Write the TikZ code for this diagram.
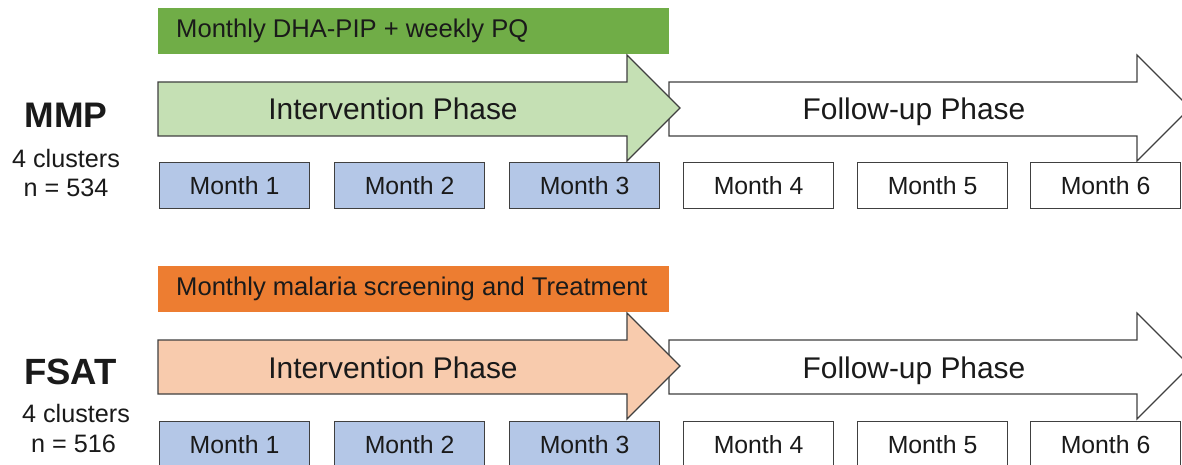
\documentclass[tikz,border=0pt]{standalone}
\usepackage{fontspec}
\setmainfont{Liberation Sans}
\definecolor{gbar}{HTML}{70AD47}
\definecolor{garrow}{HTML}{C5E0B4}
\definecolor{obar}{HTML}{ED7D31}
\definecolor{oarrow}{HTML}{F8CBAD}
\definecolor{mblue}{HTML}{B4C7E7}
\definecolor{edge}{HTML}{404040}
\definecolor{txt}{HTML}{1A1A1A}
\begin{document}
\begin{tikzpicture}[x=1pt,y=-1pt,
  monthbox/.style={draw=edge,line width=1.1pt,minimum width=150pt,minimum height=46pt,inner sep=0pt,anchor=north west,text=txt,font=\fontsize{24.8}{28}\selectfont},
  arrowshape/.style={draw=edge,line width=1.1pt,line join=miter},
  phasetext/.style={text=txt,font=\fontsize{29.9}{34}\selectfont,inner sep=0pt,anchor=base},
  bartext/.style={text=txt,font=\fontsize{25.6}{29}\selectfont,inner sep=0pt,anchor=west},
  grouplbl/.style={text=txt,font=\fontsize{36}{40}\selectfont\bfseries,inner sep=0pt},
  sublbl/.style={text=txt,font=\fontsize{25.2}{29}\selectfont,inner sep=0pt}]
\useasboundingbox (0,0) rectangle (1182,465);
\clip (0,0) rectangle (1182,465);
\fill[white] (0,0) rectangle (1182,465);
% ---------- MMP ----------
\fill[gbar] (158,8) rectangle (669,54);
\node[bartext] (mbar) at (176,31) {Monthly DHA-PIP + weekly PQ};
\draw[arrowshape,fill=white] (669,82) -- (1137,82) -- (1137,55) -- (1190,108) -- (1137,161) -- (1137,136) -- (669,136) -- cycle;
\draw[arrowshape,fill=garrow] (158,82) -- (627,82) -- (627,55) -- (680,108) -- (627,161) -- (627,136) -- (158,136) -- cycle;
\node[phasetext] (mint) at (393,120) {Intervention Phase};
\node[phasetext] (mfol) at (914,120) {Follow-up Phase};
\node[monthbox,fill=mblue] (m1) at (159,162) {Month 1};
\node[monthbox,fill=mblue] (m2) at (334,162) {Month 2};
\node[monthbox,fill=mblue] (m3) at (509,162) {Month 3};
\node[monthbox,fill=white] (m4) at (683,162) {Month 4};
\node[monthbox,fill=white] (m5) at (857,162) {Month 5};
\node[monthbox,fill=white] (m6) at (1030,162) {Month 6};
\node[grouplbl,font=\fontsize{35.5}{40}\selectfont\bfseries] (mmp) at (66,115.5) {MMP};
\node[sublbl] (mcl) at (66,158) {4 clusters};
\node[sublbl] (mn) at (66,188) {n = 534};
% ---------- FSAT ----------
\fill[obar] (158,266) rectangle (669,312);
\node[bartext] (fbar) at (176,289) {Monthly malaria screening and Treatment};
\draw[arrowshape,fill=white] (669,340) -- (1137,340) -- (1137,313) -- (1190,366) -- (1137,419) -- (1137,394) -- (669,394) -- cycle;
\draw[arrowshape,fill=oarrow] (158,340) -- (627,340) -- (627,313) -- (680,366) -- (627,419) -- (627,394) -- (158,394) -- cycle;
\node[phasetext] (fint) at (393,378) {Intervention Phase};
\node[phasetext] (ffol) at (914,378) {Follow-up Phase};
\node[monthbox,fill=mblue] (f1) at (159,421) {Month 1};
\node[monthbox,fill=mblue] (f2) at (334,421) {Month 2};
\node[monthbox,fill=mblue] (f3) at (509,421) {Month 3};
\node[monthbox,fill=white] (f4) at (683,421) {Month 4};
\node[monthbox,fill=white] (f5) at (857,421) {Month 5};
\node[monthbox,fill=white] (f6) at (1030,421) {Month 6};
\node[grouplbl,font=\fontsize{36.5}{40}\selectfont\bfseries] (fsat) at (70.5,372) {FSAT};
\node[sublbl] (fcl) at (76,413) {4 clusters};
\node[sublbl] (fn) at (73.5,444) {n = 516};
\end{tikzpicture}
\end{document}
